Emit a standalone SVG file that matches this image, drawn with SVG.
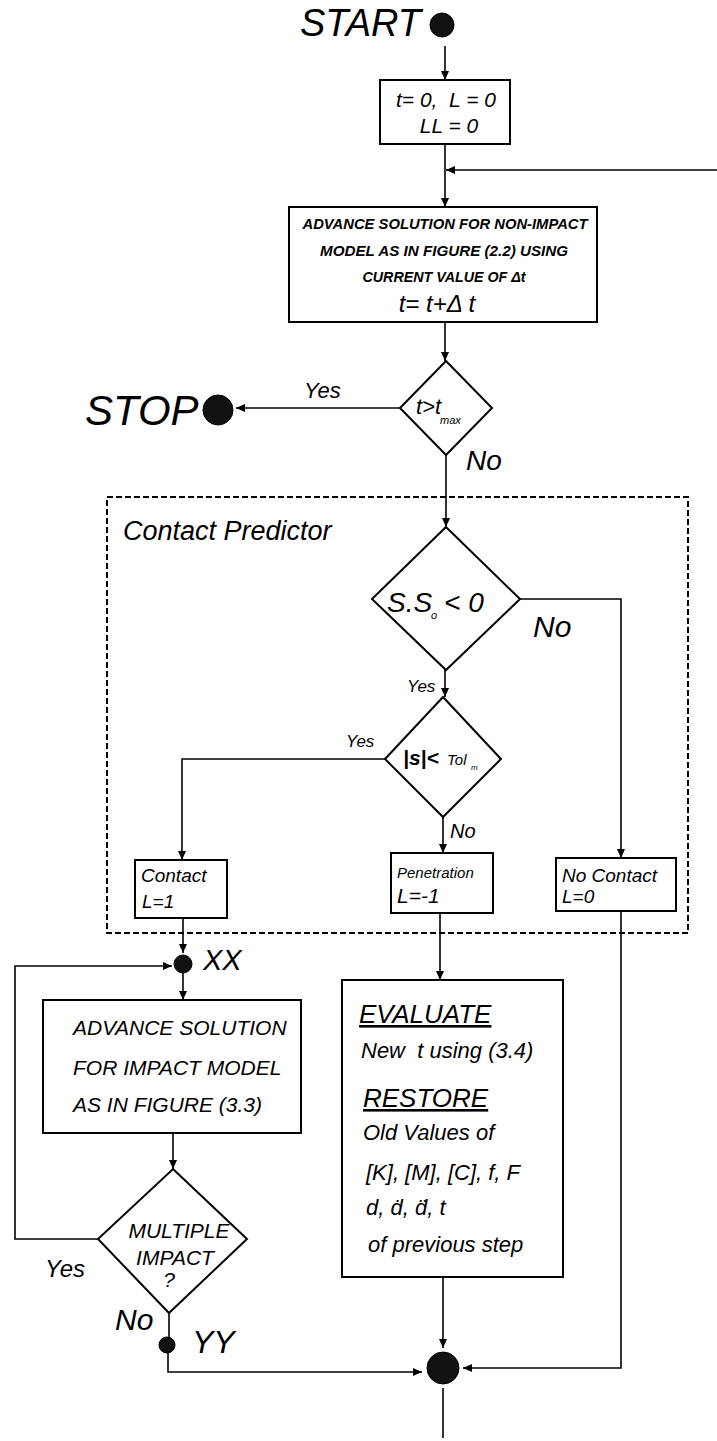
<svg xmlns="http://www.w3.org/2000/svg" width="717" height="1441" viewBox="0 0 717 1441">
<style>
.ln{stroke:#000;stroke-width:1.6;fill:none}
.bx{stroke:#000;stroke-width:2;fill:#fff}
.dash{stroke:#000;stroke-width:2;fill:none;stroke-dasharray:6,3}
.t{font-family:"Liberation Sans",Arial,sans-serif;font-style:italic;fill:#000}
.b{font-weight:bold}
.dot{fill:#111;stroke:#000;stroke-width:1}
</style>
<defs>
<marker id="ah" markerUnits="userSpaceOnUse" markerWidth="9" markerHeight="8" refX="9" refY="4" orient="auto">
<path d="M0,0 L9,4 L0,8 z" fill="#000"/>
</marker>
</defs>
<rect width="717" height="1441" fill="#fff"/>

<g id="contact-predictor-frame">
<rect class="dash" x="107" y="497" width="581" height="436"/>
<text class="t" x="123" y="540" font-size="27">Contact Predictor</text>
</g>

<g id="connectors">
<path class="ln" d="M445,46 V80" marker-end="url(#ah)"/>
<path class="ln" d="M445,144 V207" marker-end="url(#ah)"/>
<path class="ln" d="M717,170 H446" marker-end="url(#ah)"/>
<path class="ln" d="M445,322 V361" marker-end="url(#ah)"/>
<path class="ln" d="M400,408 H236" marker-end="url(#ah)"/>
<path class="ln" d="M446,455 V527" marker-end="url(#ah)"/>
<path class="ln" d="M520,599 H621 V858" marker-end="url(#ah)"/>
<path class="ln" d="M445,670 V697" marker-end="url(#ah)"/>
<path class="ln" d="M385,759 H182 V860" marker-end="url(#ah)"/>
<path class="ln" d="M443,817 V853" marker-end="url(#ah)"/>
<path class="ln" d="M183,918 V953" marker-end="url(#ah)"/>
<path class="ln" d="M183,973 V1000" marker-end="url(#ah)"/>
<path class="ln" d="M173,1133 V1169" marker-end="url(#ah)"/>
<path class="ln" d="M98,1239 H15 V966 H172" marker-end="url(#ah)"/>
<path class="ln" d="M169,1313 V1337"/>
<path class="ln" d="M168,1353 V1372 H422" marker-end="url(#ah)"/>
<path class="ln" d="M440,913 V980" marker-end="url(#ah)"/>
<path class="ln" d="M443,1277 V1348" marker-end="url(#ah)"/>
<path class="ln" d="M621,911 V1368 H463" marker-end="url(#ah)"/>
<path class="ln" d="M443,1388 V1438"/>
</g>

<g id="start">
<text class="t" x="421" y="36" font-size="38" text-anchor="end">START</text>
<circle class="dot" cx="442" cy="25" r="12"/>
</g>

<g id="init">
<rect class="bx" x="380" y="80" width="130" height="64"/>
<text class="t" x="446" y="107" font-size="21" text-anchor="middle">t= 0,&#160;&#160;L = 0</text>
<text class="t" x="449" y="133" font-size="21" text-anchor="middle">LL = 0</text>
</g>

<g id="advance-nonimpact">
<rect class="bx" x="289" y="207" width="308" height="115"/>
<text class="t b" x="445" y="229" font-size="15" text-anchor="middle" textLength="285" lengthAdjust="spacingAndGlyphs">ADVANCE SOLUTION FOR NON-IMPACT</text>
<text class="t b" x="444" y="256" font-size="15" text-anchor="middle" textLength="248" lengthAdjust="spacingAndGlyphs">MODEL AS IN FIGURE (2.2) USING</text>
<text class="t b" x="444" y="282" font-size="15" text-anchor="middle" textLength="163" lengthAdjust="spacingAndGlyphs">CURRENT VALUE OF Δt</text>
<text class="t" x="437" y="312" font-size="24" text-anchor="middle">t= t+Δ t</text>
</g>

<g id="check-tmax">
<polygon class="bx" points="446,361 492,408 446,455 400,408"/>
<text class="t" x="416" y="414" font-size="22">t&gt;t</text>
<text class="t" x="440" y="424" font-size="11">max</text>
<text class="t" x="304" y="398" font-size="22">Yes</text>
<text class="t" x="466" y="470" font-size="28">No</text>
</g>

<g id="stop">
<text class="t" x="85" y="425" font-size="42">STOP</text>
<circle class="dot" cx="218" cy="410" r="15"/>
</g>

<g id="check-sign">
<polygon class="bx" points="446,527 520,599 446,670 372,599"/>
<text class="t" x="387" y="612" font-size="28">S.S</text>
<text class="t" x="431" y="619" font-size="11">o</text>
<text class="t" x="444" y="612" font-size="28">&lt; 0</text>
<text class="t" x="533" y="637" font-size="30">No</text>
<text class="t" x="407" y="692" font-size="17">Yes</text>
</g>

<g id="check-tol">
<polygon class="bx" points="443,697 501,759 443,817 385,759"/>
<text class="t b" x="403" y="765" font-size="21">|s|&lt;</text>
<text class="t" x="447" y="765" font-size="15">Tol</text>
<text class="t" x="471" y="770" font-size="8">m</text>
<text class="t" x="346" y="747" font-size="17">Yes</text>
<text class="t" x="450" y="838" font-size="20">No</text>
</g>

<g id="contact">
<rect class="bx" x="135" y="860" width="92" height="58"/>
<text class="t" x="141" y="882" font-size="19">Contact</text>
<text class="t" x="142" y="908" font-size="19">L=1</text>
</g>

<g id="penetration">
<rect class="bx" x="391" y="853" width="102" height="60"/>
<text class="t" x="397" y="878" font-size="15">Penetration</text>
<text class="t" x="397" y="903" font-size="21">L=-1</text>
</g>

<g id="no-contact">
<rect class="bx" x="556" y="858" width="120" height="53"/>
<text class="t" x="562" y="882" font-size="19">No Contact</text>
<text class="t" x="562" y="903" font-size="19">L=0</text>
</g>

<g id="xx">
<circle class="dot" cx="183" cy="964" r="9"/>
<text class="t" x="203" y="970" font-size="29">XX</text>
</g>

<g id="advance-impact">
<rect class="bx" x="43" y="1000" width="258" height="133"/>
<text class="t" x="73" y="1035" font-size="21">ADVANCE SOLUTION</text>
<text class="t" x="73" y="1075" font-size="21">FOR IMPACT MODEL</text>
<text class="t" x="73" y="1112" font-size="21">AS IN FIGURE (3.3)</text>
</g>

<g id="multiple-impact">
<polygon class="bx" points="173,1169 247,1239 169,1313 98,1239"/>
<text class="t" x="179" y="1238" font-size="21" text-anchor="middle">MULTIPLE</text>
<text class="t" x="175" y="1265" font-size="21" text-anchor="middle">IMPACT</text>
<text class="t" x="169" y="1287" font-size="21" text-anchor="middle">?</text>
<text class="t" x="45" y="1277" font-size="24">Yes</text>
<text class="t" x="115" y="1330" font-size="30">No</text>
</g>

<g id="yy">
<circle class="dot" cx="167" cy="1345" r="8"/>
<text class="t" x="192" y="1353" font-size="32">YY</text>
</g>

<g id="evaluate-restore">
<rect class="bx" x="342" y="980" width="221" height="297"/>
<text class="t" x="359" y="1023" font-size="26" text-decoration="underline">EVALUATE</text>
<text class="t" x="361" y="1058" font-size="22">New&#160; t using (3.4)</text>
<text class="t" x="363" y="1107" font-size="26" text-decoration="underline">RESTORE</text>
<text class="t" x="363" y="1140" font-size="22">Old Values of</text>
<text class="t" x="366" y="1180" font-size="22">[K], [M], [C], f, F</text>
<text class="t" x="366" y="1215" font-size="22">d, ḋ, d̈, t</text>
<text class="t" x="368" y="1252" font-size="22">of previous step</text>
</g>

<g id="merge">
<circle class="dot" cx="443" cy="1368" r="16"/>
</g>
</svg>
